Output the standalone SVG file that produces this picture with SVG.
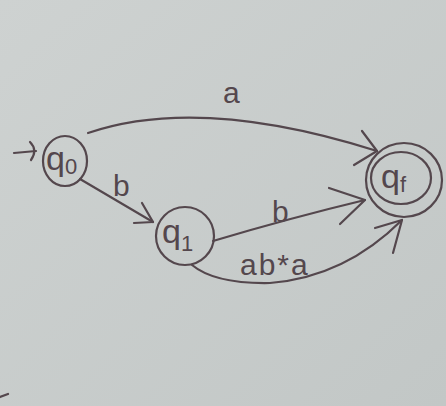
<svg xmlns="http://www.w3.org/2000/svg" width="446" height="406" viewBox="0 0 446 406">
  <defs>
    <linearGradient id="paper" x1="0" y1="0" x2="1" y2="1">
      <stop offset="0" stop-color="#ced2d1"/>
      <stop offset="1" stop-color="#c2c7c6"/>
    </linearGradient>
    <style>
      .ink { fill: none; stroke: #54474d; stroke-width: 2.2; stroke-linecap: round; stroke-linejoin: round; }
      .lbl { fill: #54474d; font-family: "Liberation Sans", Arial, sans-serif; }
      .edge { font-size: 30px; }
      .state { font-size: 34px; }
      .sub { font-size: 22px; }
    </style>
  </defs>

  <rect width="446" height="406" fill="url(#paper)"/>

  <!-- states -->
  <g id="q0">
    <ellipse class="ink" cx="65" cy="161" rx="22" ry="25"/>
    <text class="lbl state" x="46" y="170">q<tspan class="sub" dy="4">0</tspan></text>
  </g>
  <g id="q1">
    <ellipse class="ink" cx="185" cy="236" rx="29" ry="29"/>
    <text class="lbl state" x="162" y="243">q<tspan class="sub" dy="8">1</tspan></text>
  </g>
  <g id="qf">
    <ellipse class="ink" cx="404" cy="180" rx="38" ry="37"/>
    <ellipse class="ink" cx="401" cy="178" rx="30" ry="26"/>
    <text class="lbl state" x="381" y="188">q<tspan class="sub" dy="4">f</tspan></text>
  </g>

  <!-- transitions -->
  <g id="connectors">
    <!-- start -->
    <path class="ink" d="M14 153 L36 151"/>
    <path class="ink" d="M30 142 Q38 150 31 160"/>
    <!-- q0 -a-> qf -->
    <path class="ink" d="M88 133 Q200 95 377 151"/>
    <path class="ink" d="M362 131 L377 151 L354 165"/>
    <!-- q0 -b-> q1 -->
    <path class="ink" d="M80 179 L153 222"/>
    <path class="ink" d="M142 203 L153 222 L134 223"/>
    <!-- q1 -b-> qf -->
    <path class="ink" d="M213 241 Q290 218 365 200"/>
    <path class="ink" d="M329 188 L365 200 L340 224"/>
    <!-- q1 -ab*a-> qf -->
    <path class="ink" d="M192 265 Q215 284 270 283 Q345 277 402 220"/>
    <path class="ink" d="M375 228 L402 220 L393 253"/>
  </g>

  <!-- edge labels -->
  <text class="lbl edge" x="240" y="275" font-size="35" letter-spacing="2">ab*a</text>
  <text class="lbl edge" x="223" y="103">a</text>
  <text class="lbl edge" x="113" y="196">b</text>
  <text class="lbl edge" x="272" y="222">b</text>

  <!-- stray pen mark -->
  <path class="ink" d="M0 397 L8 394"/>
</svg>
